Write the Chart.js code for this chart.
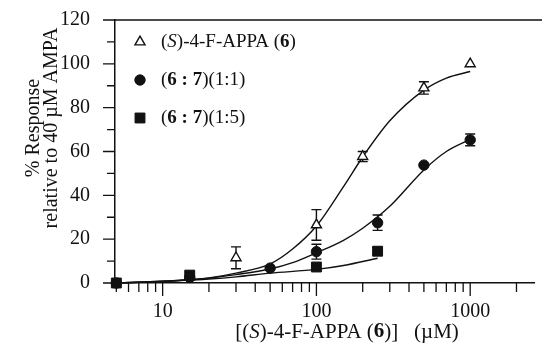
<!DOCTYPE html>
<html>
<head>
<meta charset="utf-8">
<script src="https://cdn.jsdelivr.net/npm/chart.js@4.4.1/dist/chart.umd.min.js"></script>
<style>
  html, body { margin: 0; padding: 0; background: #fff; }
  #wrap { width: 542px; height: 344px; }
</style>
</head>
<body>
<div id="wrap"><canvas id="doseChart" width="542" height="344"></canvas></div>
<script>
// Concentration-response of (S)-4-F-APPA

const triX = [30, 100, 200, 500, 1000];
const triY = [11.5, 26.5, 57.7, 89, 100];
const triErr = [5, 7, 2.3, 2.8, 0];

const circX = [5, 15, 50, 100, 250, 500, 1000];
const circY = [0, 2.5, 6.8, 14.3, 27.5, 53.8, 65.3];
const circErr = [0, 0, 0, 3.4, 3.5, 0, 2.7];

const sqX = [5, 15, 100, 250];
const sqY = [0, 3.6, 7.3, 14.5];
const sqErr = [0, 0, 0, 1.8];

// fitted curves
const fitX = [5, 10, 15, 20, 30, 50, 70, 100, 150, 200, 300, 500, 700, 1000];
const triFit = [0, 0.8, 1.5, 2.3, 4.5, 8.7, 15.5, 26, 44, 57.5, 74, 88, 93.5, 96.5];
const circFit = [0, 0.8, 1.5, 2.2, 3.8, 6.4, 9.3, 13.8, 19.5, 25, 35, 51.6, 60, 65.5];
const sqFitX = [5, 10, 15, 20, 30, 50, 100, 150, 250];
const sqFit = [0, 0.7, 1.3, 1.8, 2.8, 4.5, 6.2, 8, 11.3];

const xTickLabels = [10, 100, 1000];

// text pieces: [text, style]
const legendLabels = [
  [['(', ''], ['S', 'italic'], [')-4-F-APPA (', ''], ['6', 'bold'], [')', '']],
  [['(', ''], ['6 : 7', 'bold'], [')(1:1)', '']],
  [['(', ''], ['6 : 7', 'bold'], [')(1:5)', '']],
];
const xTitle = [['[(', ''], ['S', 'italic'], [')-4-F-APPA (', ''], ['6', 'bold'], [')]   (\u00b5M)', '']];
const yTitle = ['% Response', 'relative to 40 \u00b5M AMPA'];

const INK = '#111';
const SERIF = '"Liberation Serif", "Times New Roman", serif';

function pts(xs, ys) {
  return xs.map((x, i) => ({ x, y: ys[i] }));
}

function drawRuns(ctx, runs, x, y, size, align) {
  const fontFor = (s) => `${s} ${size}px ${SERIF}`.trim();
  let total = 0;
  runs.forEach(([t, s]) => {
    ctx.font = fontFor(s);
    total += ctx.measureText(t).width;
  });
  let cx = align === 'center' ? x - total / 2 : x;
  ctx.textAlign = 'left';
  ctx.textBaseline = 'middle';
  runs.forEach(([t, s]) => {
    ctx.font = fontFor(s);
    ctx.fillText(t, cx, y);
    cx += ctx.measureText(t).width;
  });
}

const markerStyles = [
  { pointStyle: 'triangle', radius: 5.8, backgroundColor: '#fff', borderColor: INK, borderWidth: 1.4 },
  { pointStyle: 'circle', radius: 5.2, backgroundColor: INK, borderColor: INK, borderWidth: 1 },
  { pointStyle: 'rect', radius: 7, backgroundColor: INK, borderColor: INK, borderWidth: 1 },
];

const errorBars = {
  id: 'errorBars',
  beforeDatasetsDraw(chart) {
    const { ctx, scales: { y } } = chart;
    ctx.save();
    ctx.strokeStyle = INK;
    ctx.lineWidth = 1.4;
    chart.data.datasets.forEach((ds, i) => {
      if (!ds.errors) return;
      const meta = chart.getDatasetMeta(i);
      meta.data.forEach((pt, j) => {
        const e = ds.errors[j];
        if (!e) return;
        const v = ds.data[j].y;
        const top = y.getPixelForValue(v + e);
        const bot = y.getPixelForValue(v - e);
        ctx.beginPath();
        ctx.moveTo(pt.x, top); ctx.lineTo(pt.x, bot);
        ctx.moveTo(pt.x - 5, top); ctx.lineTo(pt.x + 5, top);
        ctx.moveTo(pt.x - 5, bot); ctx.lineTo(pt.x + 5, bot);
        ctx.stroke();
      });
    });
    ctx.restore();
  },
};

const frameAndText = {
  id: 'frameAndText',
  afterDraw(chart) {
    const { ctx, scales: { x, y }, chartArea: a } = chart;
    ctx.save();
    ctx.strokeStyle = INK;
    ctx.lineWidth = 1.3;
    ctx.beginPath();
    // log ticks on x, long at decades
    for (let d = 1; d <= 1000; d *= 10) {
      for (let m = 1; m < 10; m++) {
        const v = m * d;
        if (v < x.min || v > x.max) continue;
        const px = x.getPixelForValue(v);
        ctx.moveTo(px, a.bottom);
        ctx.lineTo(px, a.bottom + (m === 1 ? 13 : 9));
      }
    }
    for (let v = y.min; v <= y.max; v += 10) {
      const py = y.getPixelForValue(v);
      ctx.moveTo(a.left, py);
      ctx.lineTo(a.left - (v % 20 === 0 ? 12 : 8), py);
    }
    // top frame line
    ctx.moveTo(a.left - 12, a.top);
    ctx.lineTo(chart.width, a.top);
    ctx.stroke();

    // legend
    legendLabels.forEach((runs, i) => {
      const s = markerStyles[i];
      const ly = a.top + 22 + i * 38;
      ctx.fillStyle = s.backgroundColor;
      ctx.strokeStyle = s.borderColor;
      ctx.lineWidth = s.borderWidth;
      Chart.helpers.drawPoint(ctx, s, a.left + 25, ly);
      ctx.fillStyle = INK;
      drawRuns(ctx, runs, a.left + 46, ly, 19, 'left');
    });

    ctx.fillStyle = INK;
    // x title
    drawRuns(ctx, xTitle, 347, 332, 21, 'center');

    // y title, two rotated lines
    ctx.font = `20px ${SERIF}`;
    ctx.textAlign = 'center';
    ctx.textBaseline = 'middle';
    yTitle.forEach((line, i) => {
      ctx.save();
      ctx.translate(34 + i * 18, 128);
      ctx.rotate(-Math.PI / 2);
      ctx.fillText(line, 0, 0);
      ctx.restore();
    });
    ctx.restore();
  },
};

const curveStyle = {
  showLine: true,
  pointRadius: 0,
  borderColor: INK,
  borderWidth: 1.4,
  cubicInterpolationMode: 'monotone',
  clip: false,
  order: 2,
};

function markerSet(label, data, errors, s) {
  return {
    label,
    data,
    errors,
    showLine: false,
    pointStyle: s.pointStyle,
    pointRadius: s.radius,
    pointBackgroundColor: s.backgroundColor,
    pointBorderColor: s.borderColor,
    pointBorderWidth: s.borderWidth,
    clip: false,
    order: 1,
  };
}

new Chart(document.getElementById('doseChart'), {
  type: 'scatter',
  data: {
    datasets: [
      { label: 'fit 6', data: pts(fitX, triFit), ...curveStyle },
      { label: 'fit 1:1', data: pts(fitX, circFit), ...curveStyle },
      { label: 'fit 1:5', data: pts(sqFitX, sqFit), ...curveStyle },
      markerSet('(S)-4-F-APPA (6)', pts(triX, triY), triErr, markerStyles[0]),
      markerSet('(6 : 7)(1:1)', pts(circX, circY), circErr, markerStyles[1]),
      markerSet('(6 : 7)(1:5)', pts(sqX, sqY), sqErr, markerStyles[2]),
    ],
  },
  options: {
    responsive: false,
    animation: false,
    layout: { padding: { top: 20, right: 2, left: 0, bottom: 0 } },
    plugins: {
      legend: { display: false },
      tooltip: { enabled: false },
    },
    scales: {
      x: {
        type: 'logarithmic',
        min: 4.9,
        max: 2600,
        grid: { display: false },
        border: { display: true, color: INK, width: 1.5 },
        ticks: {
          autoSkip: false,
          maxRotation: 0,
          padding: 9,
          color: INK,
          font: { family: SERIF, size: 20 },
          callback: (v) => (xTickLabels.includes(v) ? String(v) : ''),
        },
        afterFit: (s) => {
          s.height = 61;
          s.paddingLeft = 0;
          s.paddingRight = 0;
        },
      },
      y: {
        min: 0,
        max: 120,
        grid: { display: false },
        border: { display: true, color: INK, width: 1.5 },
        ticks: {
          stepSize: 20,
          padding: 17,
          color: INK,
          font: { family: SERIF, size: 20 },
        },
        afterFit: (s) => {
          s.width = 115;
          s.paddingTop = 0;
          s.paddingBottom = 0;
        },
      },
    },
  },
  plugins: [errorBars, frameAndText],
});
</script>
</body>
</html>
